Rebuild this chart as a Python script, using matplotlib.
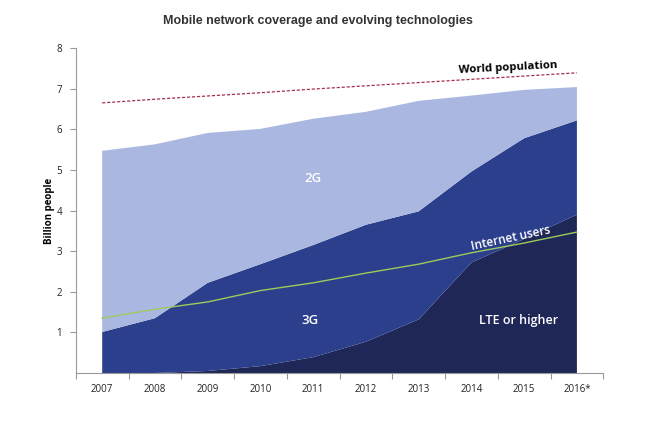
import numpy as np
import matplotlib
matplotlib.use("Agg")
import matplotlib.pyplot as plt

years = ["2007", "2008", "2009", "2010", "2011", "2012", "2013", "2014", "2015", "2016*"]

# coverage layers (billion people), bottom to top
lte = [0.0, 0.0, 0.05, 0.17, 0.39, 0.77, 1.32, 2.72, 3.30, 3.90]
g3 = [1.01, 1.35, 2.17, 2.51, 2.76, 2.88, 2.66, 2.24, 2.48, 2.32]
g2 = [4.46, 4.28, 3.69, 3.33, 3.11, 2.78, 2.72, 1.87, 1.19, 0.82]

internet_users = [1.35, 1.57, 1.75, 2.03, 2.22, 2.46, 2.68, 2.96, 3.20, 3.47]
world_population = [6.65, 6.74, 6.82, 6.90, 6.99, 7.07, 7.15, 7.23, 7.31, 7.39]

plt.rcParams['font.family'] = ['Open Sans', 'DejaVu Sans']

fig = plt.figure(figsize=(6.48, 4.29), dpi=100)
ax = fig.add_axes([0.117, 0.1305, 0.814, 0.7575])

x = np.arange(len(years))
ax.stackplot(x, lte, g3, g2, colors=["#1e2756", "#2c3f8c", "#aab8e1"], linewidth=0)
ax.plot(x, internet_users, color="#9ccb5c", lw=1.0)
ax.plot(x, world_population, color="#a3304a", lw=0.9, ls=(0, (2.5, 1.5)))

ax.set_xlim(-0.5, len(years) - 0.5)
ax.set_ylim(0, 8)

# tick marks between categories, labels at centers
ax.set_xticks(np.arange(-0.5, len(years), 1.0))
ax.set_xticklabels([])
ax.set_xticks(x, minor=True)
ax.set_xticklabels(years, minor=True, fontsize=7, color="#222222")
ax.tick_params(axis="x", which="major", direction="out", length=4, color="#999999")
ax.tick_params(axis="x", which="minor", length=0, pad=8)
ax.set_yticks(range(1, 9))
ax.tick_params(axis="y", direction="out", length=4, color="#999999",
               labelsize=7, labelcolor="#222222", pad=6)

for side in ["top", "right"]:
    ax.spines[side].set_visible(False)
for side in ["left", "bottom"]:
    ax.spines[side].set_color("#999999")
    ax.spines[side].set_linewidth(0.8)

ax.set_ylabel("Billion people", fontsize=7, fontweight="bold", labelpad=1)

ax.text(4.0, 4.8, "2G", color="white", fontsize=9.5, fontweight="semibold",
        ha="center", va="center")
ax.text(3.95, 1.3, "3G", color="white", fontsize=9.5, fontweight="semibold",
        ha="center", va="center")
ax.text(7.9, 1.3, "LTE or higher", color="white", fontsize=9, fontweight="semibold",
        ha="center", va="center")
ax.text(7.75, 3.32, "Internet users", color="white", fontsize=8.5, fontweight="semibold",
        ha="center", va="center", rotation=12)
ax.text(7.7, 7.5, "World population", color="black", fontsize=8.2, fontweight="bold",
        ha="center", va="center", rotation=3)

fig.text(0.49, 0.952, "Mobile network coverage and evolving technologies",
         fontsize=9, fontweight="bold", color="#333333", ha="center", va="center",
         family="Liberation Sans")

fig.savefig("out.png", dpi=100)
